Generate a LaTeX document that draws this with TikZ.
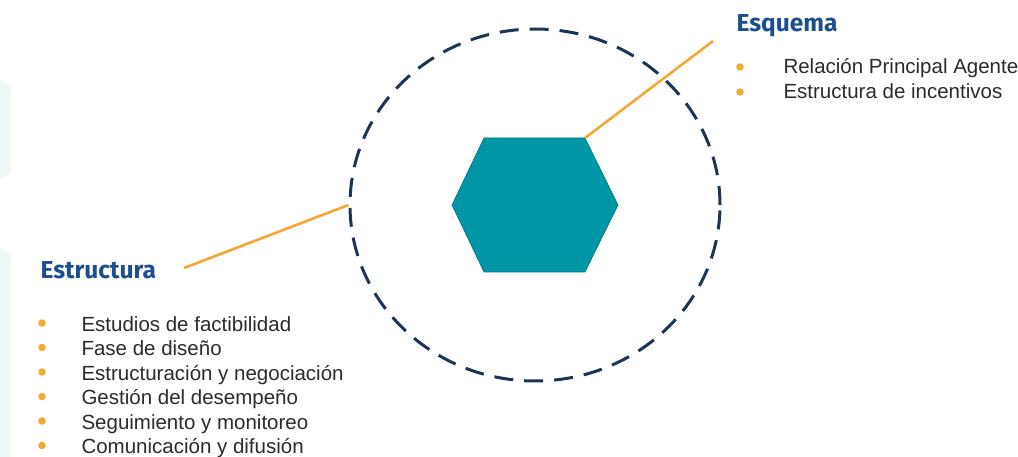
\documentclass[tikz,border=0pt]{standalone}
\usepackage{fontspec}
\setmainfont{Liberation Sans}
\newfontfamily\headfont{Fira Sans}
\usetikzlibrary{shapes.geometric, calc}
\definecolor{inknavy}{HTML}{1D4E8F}
\definecolor{ringblue}{HTML}{1B3557}
\definecolor{accent}{HTML}{F5A834}
\definecolor{tealfill}{HTML}{0096A6}
\definecolor{paleback}{HTML}{EEF7F8}
\definecolor{inkbody}{HTML}{2B2B2B}

\begin{document}
\begin{tikzpicture}[x=1pt, y=-1pt,
    heading/.style={anchor=base west, text=inknavy,
      font=\headfont\bfseries\fontsize{24.5}{27}\selectfont},
    item/.style={anchor=base west, text=inkbody,
      font=\fontsize{20.5}{24}\selectfont},
    dot/.style={circle, fill=accent, inner sep=0pt, minimum size=7.5pt},
    link/.style={accent, line width=2.6pt}]
  \useasboundingbox (0,0) rectangle (1018,457);
  % faint background pieces
  \fill[paleback] (0,80) -- (11,87) -- (11,173) -- (0,180) -- cycle;
  \fill[paleback] (0,248) -- (11,255) -- (11,457) -- (0,457) -- cycle;

  \node[ellipse, draw=ringblue, line width=3pt, dash pattern=on 19pt off 11pt,
        minimum width=370pt, minimum height=352pt, inner sep=0pt]
    (ring) at (535,205) {};
  \coordinate (hex-tl) at (484,138);
  \coordinate (hex-tr) at (585,138);
  \coordinate (hex-r) at (618,205);
  \coordinate (hex-br) at (585,272);
  \coordinate (hex-bl) at (484,272);
  \coordinate (hex-l) at (452,205);
  \filldraw[fill=tealfill, draw=tealfill!75!black, line width=0.6pt]
    (hex-tl) -- (hex-tr) -- (hex-r) -- (hex-br) -- (hex-bl) -- (hex-l) -- cycle;

  \node[heading] (esquema) at (733,32) {Esquema};
  \node[heading] (estructura) at (37,279) {Estructura};
  \coordinate (esq-end) at (713,41);
  \coordinate (est-end) at (184,268);
  \draw[link] (hex-tr) -- (esq-end);
  \draw[link] (ring.west) -- (est-end);

  \foreach \lab [count=\i] in {Relación Principal Agente, Estructura de incentivos}{%
    \node[dot] (esq-dot-\i) at (740,67+25*\i-25) {};
    \node[item] (esq-\i) at (780,74+25*\i-25) {\lab};}
  \foreach \lab [count=\i] in {Estudios de factibilidad, Fase de diseño,
      Estructuración y negociación, Gestión del desempeño,
      Seguimiento y monitoreo, Comunicación y difusión}{%
    \node[dot] (est-dot-\i) at (42,323+24.5*\i-24.5) {};
    \node[item] (est-\i) at (78,331+24.5*\i-24.5) {\lab};}
\end{tikzpicture}
\end{document}
